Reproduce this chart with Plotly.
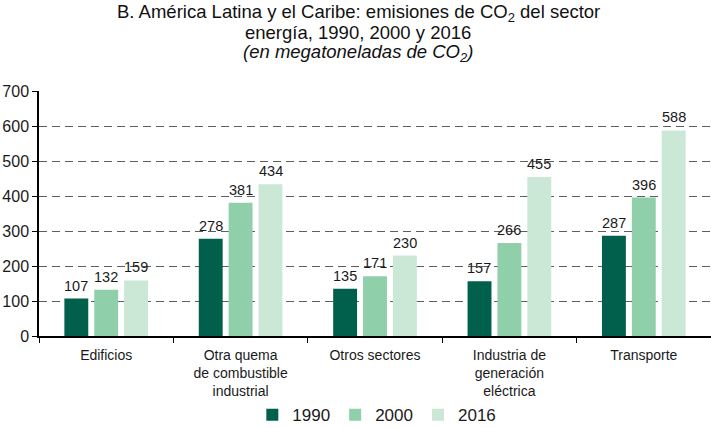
import plotly.graph_objects as go

categories = ["Edificios", "Otra quema<br>de combustible<br>industrial", "Otros sectores",
              "Industria de<br>generación<br>eléctrica", "Transporte"]
years = ["1990", "2000", "2016"]
values_1990 = [107, 278, 135, 157, 287]
values_2000 = [132, 381, 171, 266, 396]
values_2016 = [159, 434, 230, 455, 588]
colors = ["#00604B", "#8FCFAA", "#CBE7D5"]

title_lines = [
    "B. América Latina y el Caribe: emisiones de CO<sub>2</sub> del sector",
    "energía, 1990, 2000 y 2016",
    "<i>(en megatoneladas de CO<sub>2</sub>)</i>",
]
title_y = [1.318, 1.237, 1.155]

fig = go.Figure()
series = [values_1990, values_2000, values_2016]
for i, (year, vals, col) in enumerate(zip(years, series, colors)):
    fig.add_trace(go.Bar(
        x=categories, y=vals, name=year,
        marker=dict(color=col, line=dict(width=0)),
    ))
    # value labels sit a little higher than plotly's own outside text
    for cat, v in zip(categories, vals):
        fig.add_annotation(x=cat, y=v, xref="x", yref="y", text=str(v),
                           xshift=(i - 1) * 30, yshift=13, yanchor="middle",
                           showarrow=False, font=dict(size=14.5, color="#1a1a1a"))

# title, one annotation per line to keep the tight line spacing
for line, ty in zip(title_lines, title_y):
    fig.add_annotation(text=line, xref="paper", yref="paper", x=0.475, y=ty,
                       xanchor="center", yanchor="middle", showarrow=False,
                       font=dict(size=18.5, color="#111111"))

fig.update_layout(
    width=711, height=428,
    margin=dict(l=39, r=0, t=91, b=92),
    paper_bgcolor="white", plot_bgcolor="white",
    font=dict(family="Liberation Sans, Arial, sans-serif", size=14, color="#1a1a1a"),
    barmode="group", bargap=0.333, bargroupgap=0.2,
    legend=dict(orientation="h", xref="container", yref="container",
                x=0.53, xanchor="center", y=0.03, yanchor="middle",
                font=dict(size=17), traceorder="normal", itemwidth=30),
)
fig.update_xaxes(
    showline=True, linecolor="black", linewidth=1.5,
    ticks="outside", tickson="boundaries", ticklen=5, tickcolor="black",
    showgrid=False, tickfont=dict(size=14), automargin=False,
    ticklabelstandoff=5,
)
fig.update_yaxes(
    range=[0, 701], dtick=100, showline=True, linecolor="black", linewidth=1.5,
    ticks="outside", ticklen=5, tickcolor="black",
    showgrid=True, gridcolor="#5e5e5e", griddash="8px,5px", gridwidth=1.3,
    zeroline=False, tickfont=dict(size=16), automargin=False,
)

# page body has a default 8px margin; drop it so the figure sits at the window corner
fig.write_html("out.html", config={"displayModeBar": False},
               post_script="document.body.style.margin='0px';")
